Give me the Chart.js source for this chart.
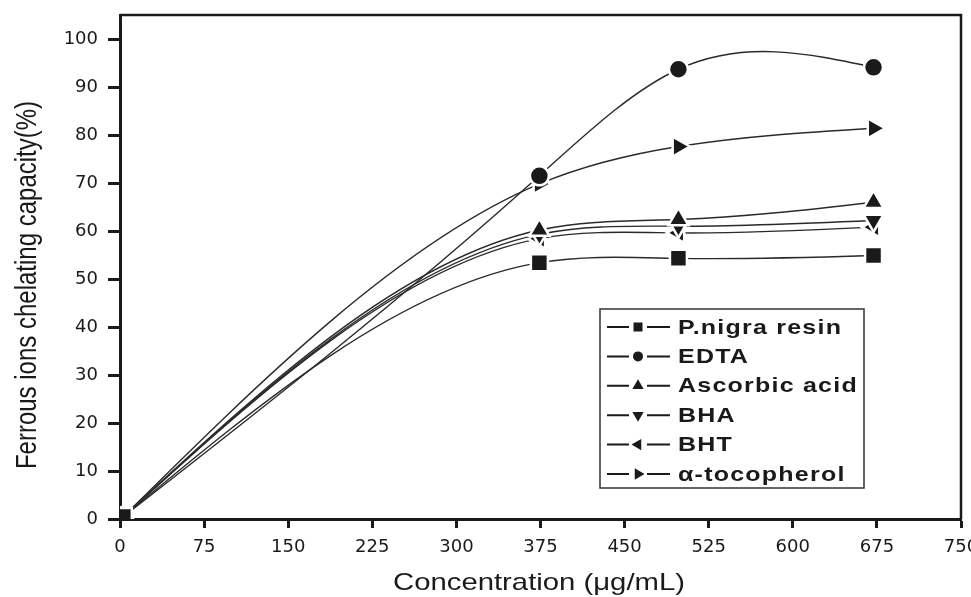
<!DOCTYPE html>
<html>
<head>
<meta charset="utf-8">
<script src="https://cdn.jsdelivr.net/npm/chart.js@4/dist/chart.umd.min.js"></script>
<style>
  html, body { margin: 0; padding: 0; background: #fff; }
  #wrap { width: 971px; height: 597px; }
</style>
</head>
<body>
<div id="wrap"><canvas id="myChart" width="971" height="597"></canvas></div>
<script>
// concentrations (ug/mL) and chelating capacity (%)
const conc = [3, 374, 498, 672];
const pnigra = [0.5, 53.4, 54.3, 54.9];
const edta = [0.5, 71.5, 93.7, 94.1];
const ascorbic = [0.5, 60.2, 62.4, 66.0];
const bha = [0.5, 59.3, 61.0, 62.2];
const bht = [0.5, 58.4, 59.6, 60.8];
const toco = [0.5, 69.8, 77.6, 81.4];

const names = ["P.nigra resin", "EDTA", "Ascorbic acid", "BHA", "BHT", "\u03b1-tocopherol"];
const series = [pnigra, edta, ascorbic, bha, bht, toco];
const marks = ["rect", "circle", "triangle", "triangle", "triangle", "triangle"];
const turns = [0, 0, 0, 180, 270, 90];
const sizes = [12, 9.5, 11.5, 11.5, 11.5, 11.5];

const xTicks = [0, 75, 150, 225, 300, 375, 450, 525, 600, 675, 750];
const yTicks = [0, 10, 20, 30, 40, 50, 60, 70, 80, 90, 100];

const ink = "#1a1a1a";
const plotRight = 961; // the frame runs almost to the canvas edge, "750" gets cut

const datasets = series.map((vals, i) => ({
    label: names[i],
    data: vals.map((v, j) => ({x: conc[j], y: v})),
    borderColor: "#2a2a2a",
    borderWidth: 1.4,
    tension: 0.4,
    pointStyle: marks[i],
    rotation: turns[i],
    pointRadius: sizes[i],
    pointBackgroundColor: ink,
    pointBorderColor: "#fff",
    pointBorderWidth: 2.5
}));

// natural cubic spline through the points chart.js placed, written into
// their bezier control points (the original plot uses this kind of spline)
function naturalSpline(pts) {
    const n = pts.length;
    if (n < 3) return;
    const h = [], m = new Array(n).fill(0);
    for (let i = 0; i < n - 1; i++) h.push(pts[i + 1].x - pts[i].x);
    const a = [], b = [], c = [], r = [];
    for (let i = 1; i < n - 1; i++) {
        a.push(h[i - 1]);
        b.push(2 * (h[i - 1] + h[i]));
        c.push(h[i]);
        r.push(6 * ((pts[i + 1].y - pts[i].y) / h[i] - (pts[i].y - pts[i - 1].y) / h[i - 1]));
    }
    const k = b.length;
    for (let i = 1; i < k; i++) {
        const w = a[i] / b[i - 1];
        b[i] -= w * c[i - 1];
        r[i] -= w * r[i - 1];
    }
    const sol = new Array(k);
    sol[k - 1] = r[k - 1] / b[k - 1];
    for (let i = k - 2; i >= 0; i--) sol[i] = (r[i] - c[i] * sol[i + 1]) / b[i];
    for (let i = 0; i < k; i++) m[i + 1] = sol[i];
    const d = [];
    for (let i = 0; i < n - 1; i++) {
        d.push((pts[i + 1].y - pts[i].y) / h[i] - h[i] * (2 * m[i] + m[i + 1]) / 6);
    }
    d.push((pts[n - 1].y - pts[n - 2].y) / h[n - 2] + h[n - 2] * (m[n - 2] + 2 * m[n - 1]) / 6);
    for (let i = 0; i < n; i++) {
        const p = pts[i];
        const hb = i > 0 ? h[i - 1] / 3 : 0;
        const ha = i < n - 1 ? h[i] / 3 : 0;
        p.cp1x = p.x - hb; p.cp1y = p.y - d[i] * hb;
        p.cp2x = p.x + ha; p.cp2y = p.y + d[i] * ha;
    }
}

const splines = {
    id: "splines",
    afterLayout(chart) {
        // stretch the plot area to the right edge of the original frame
        const area = chart.chartArea, xs = chart.scales.x;
        area.right = plotRight;
        area.width = area.right - area.left;
        xs.right = plotRight;
        xs.width = xs.right - xs.left;
        xs.configure();
    },
    beforeDatasetsDraw(chart) {
        chart.getSortedVisibleDatasetMetas().forEach(meta => {
            meta.dataset.updateControlPoints(chart.chartArea);
            naturalSpline(meta.data);
        });
    }
};

// little legend marker, same shapes as the chart points
function mark(ctx, style, rot, x, y, r) {
    ctx.beginPath();
    if (style === "rect") {
        ctx.rect(x - r, y - r, 2 * r, 2 * r);
    } else if (style === "circle") {
        ctx.arc(x, y, r, 0, Math.PI * 2);
    } else {
        for (let k = 0; k < 3; k++) {
            const a = (rot + k * 120) * Math.PI / 180;
            const px = x + Math.sin(a) * r, py = y - Math.cos(a) * r;
            if (k === 0) ctx.moveTo(px, py); else ctx.lineTo(px, py);
        }
        ctx.closePath();
    }
    ctx.fill();
}

const extras = {
    id: "extras",
    afterDraw(chart) {
        const ctx = chart.ctx, a = chart.chartArea;
        ctx.save();
        // top and right frame
        ctx.strokeStyle = ink;
        ctx.lineWidth = 2.5;
        ctx.beginPath();
        ctx.moveTo(a.left, a.top);
        ctx.lineTo(a.right, a.top);
        ctx.lineTo(a.right, a.bottom);
        ctx.stroke();

        ctx.fillStyle = ink;
        // axis titles (the source is stretched sideways a bit)
        ctx.save();
        ctx.translate(539, 583);
        ctx.scale(1.22, 1);
        ctx.font = '24px "Liberation Sans"';
        ctx.textAlign = "center";
        ctx.textBaseline = "middle";
        ctx.fillText("Concentration (\u03bcg/mL)", 0, 0);
        ctx.restore();

        ctx.save();
        ctx.translate(28, 285);
        ctx.scale(1.22, 1);
        ctx.rotate(-Math.PI / 2);
        ctx.font = '24px "Liberation Sans"';
        ctx.textAlign = "center";
        ctx.textBaseline = "middle";
        ctx.fillText("Ferrous ions chelating capacity(%)", 0, 0);
        ctx.restore();

        // legend box
        ctx.fillStyle = "#fff";
        ctx.fillRect(600, 309, 264, 179);
        ctx.strokeStyle = "#333";
        ctx.lineWidth = 1.5;
        ctx.strokeRect(600, 309, 264, 179);
        const legR = [4.5, 5, 6.5, 6.5, 6.5, 6.5];
        names.forEach((n, i) => {
            const y = 327 + i * 29.4;
            ctx.strokeStyle = ink;
            ctx.lineWidth = 2;
            ctx.beginPath();
            ctx.moveTo(607, y); ctx.lineTo(629, y);
            ctx.moveTo(647, y); ctx.lineTo(670, y);
            ctx.stroke();
            ctx.fillStyle = ink;
            mark(ctx, marks[i], turns[i], 638, y, legR[i]);
            ctx.save();
            ctx.translate(678, y + 1);
            ctx.scale(1.22, 1);
            ctx.font = 'bold 20.5px "Liberation Sans"';
            ctx.letterSpacing = "1px";
            ctx.textBaseline = "middle";
            ctx.fillText(n, 0, 0);
            ctx.restore();
        });
        ctx.restore();
    }
};

const noPad = s => {
    s.paddingLeft = 0; s.paddingRight = 0; s.paddingTop = 0; s.paddingBottom = 0;
};

new Chart(document.getElementById("myChart"), {
    type: "line",
    data: {datasets: datasets},
    options: {
        responsive: false,
        animation: false,
        layout: {padding: {top: 15, right: 5, left: 0, bottom: 0}},
        plugins: {legend: {display: false}, tooltip: {enabled: false}},
        scales: {
            x: {
                type: "linear",
                min: 0,
                max: 750,
                afterBuildTicks: s => { s.ticks = xTicks.map(v => ({value: v})); },
                afterFit: s => { s.height = 78; noPad(s); },
                grid: {drawOnChartArea: false, tickLength: 9, tickWidth: 3, tickColor: ink},
                border: {color: ink, width: 3},
                ticks: {font: {family: "DejaVu Sans", size: 18}, color: ink, padding: 9, maxRotation: 0, autoSkip: false}
            },
            y: {
                min: 0,
                max: 105,
                afterBuildTicks: s => { s.ticks = yTicks.map(v => ({value: v})); },
                afterFit: s => { s.width = 120; noPad(s); },
                grid: {drawOnChartArea: false, tickLength: 12, tickWidth: 3, tickColor: ink},
                border: {color: ink, width: 3},
                ticks: {font: {family: "DejaVu Sans", size: 18}, color: ink, padding: 10, autoSkip: false}
            }
        }
    },
    plugins: [splines, extras]
});
</script>
</body>
</html>
